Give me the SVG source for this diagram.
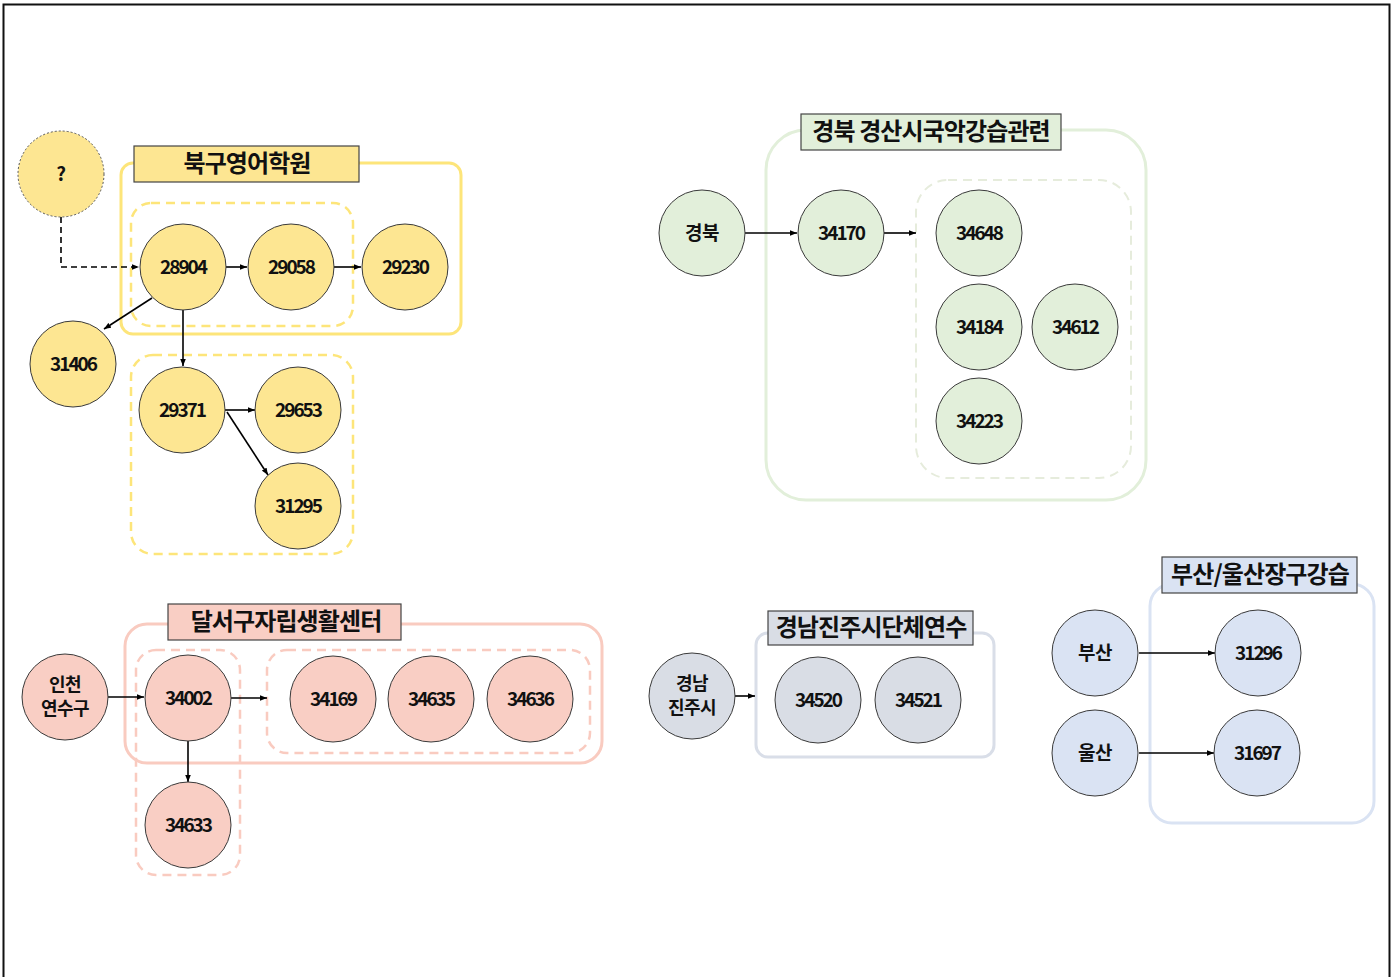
<svg xmlns="http://www.w3.org/2000/svg" width="1395" height="977" viewBox="0 0 1395 977">
<defs>
<marker id="ah" viewBox="0 0 10 10" refX="10" refY="5" markerWidth="7" markerHeight="7" markerUnits="userSpaceOnUse" orient="auto">
<path d="M0,1 L10,5 L0,9 Z" fill="#000"/>
</marker>
<style>
.c{stroke:#3a3a3a;stroke-width:1}
.y{fill:#fde692}
.g{fill:#e2efda}
.p{fill:#f9cec4}
.s{fill:#d9dde5}
.b{fill:#dae3f3}
.t{font-family:"Noto Sans CJK KR","Malgun Gothic",sans-serif;font-weight:bold;fill:#111;text-anchor:middle}
.n{font-size:19px;letter-spacing:-2px}
.k{font-size:19px;letter-spacing:-0.5px}
.k2{font-size:18px;letter-spacing:-0.5px}
.h{font-size:24px;letter-spacing:-0.9px}
.ttl{stroke:#444;stroke-width:1.2}
.e{stroke:#000;stroke-width:1.6;fill:none;marker-end:url(#ah)}
</style>
</defs>
<rect width="1395" height="977" fill="#fff"/>
<rect x="3.5" y="4.5" width="1386" height="1000" fill="none" stroke="#111" stroke-width="2"/>

<!-- Yellow group containers -->
<g id="grp-bukgu">
<rect x="121" y="163" width="340" height="171" rx="12" fill="none" stroke="#fde57a" stroke-width="3"/>
<rect x="131" y="203" width="222" height="123" rx="20" fill="none" stroke="#fde57a" stroke-width="2.5" stroke-dasharray="9,6"/>
<rect x="131" y="355" width="222" height="199" rx="22" fill="none" stroke="#fde57a" stroke-width="2.5" stroke-dasharray="9,6"/>
<rect x="134" y="146" width="225" height="36" class="y ttl"/>
<text x="247" y="172" class="t h">북구영어학원</text>
</g>

<!-- Green group containers -->
<g id="grp-gyeongsan">
<rect x="766" y="130" width="380" height="370" rx="40" fill="none" stroke="#e2efda" stroke-width="3"/>
<rect x="916" y="180" width="215" height="298" rx="32" fill="none" stroke="#e6ecdc" stroke-width="2" stroke-dasharray="9,6"/>
<rect x="801" y="114" width="260" height="36" class="g ttl"/>
<text x="931" y="140" class="t h">경북 경산시국악강습관련</text>
</g>

<!-- Pink group containers -->
<g id="grp-dalseo">
<rect x="125" y="624" width="477" height="139" rx="22" fill="none" stroke="#f9cbc0" stroke-width="3"/>
<rect x="136" y="650" width="104" height="225" rx="20" fill="none" stroke="#f9cbc0" stroke-width="2.5" stroke-dasharray="9,6"/>
<rect x="267" y="650" width="323" height="103" rx="20" fill="none" stroke="#f9cbc0" stroke-width="2.5" stroke-dasharray="9,6"/>
<rect x="168" y="604" width="233" height="36" class="p ttl"/>
<text x="286" y="630" class="t h">달서구자립생활센터</text>
</g>

<!-- Gray group -->
<g id="grp-jinju">
<rect x="756" y="633" width="238" height="124" rx="12" fill="none" stroke="#d9dee8" stroke-width="3"/>
<rect x="768" y="611" width="205" height="34" class="s ttl"/>
<text x="871" y="636" class="t h">경남진주시단체연수</text>
</g>

<!-- Blue group -->
<g id="grp-busan">
<rect x="1150" y="584" width="224" height="239" rx="22" fill="none" stroke="#dae3f3" stroke-width="3"/>
<rect x="1162" y="557" width="195" height="36" class="b ttl"/>
<text x="1260" y="583" class="t h">부산/울산장구강습</text>
</g>

<!-- Connectors -->
<g id="connectors">
<path d="M61,217 V267 H139" class="e" stroke-dasharray="6,4"/>
<path d="M226,267 H247" class="e"/>
<path d="M334,267 H361" class="e"/>
<path d="M152,298 L104,329" class="e"/>
<path d="M183,310 V366" class="e"/>
<path d="M225,410 H255" class="e"/>
<path d="M227,412 L268,475" class="e"/>
<path d="M745,233 H797" class="e"/>
<path d="M884,233 H916" class="e"/>
<path d="M108,697 H144" class="e"/>
<path d="M231,698 H267" class="e"/>
<path d="M188,741 V782" class="e"/>
<path d="M735,696 H755" class="e"/>
<path d="M1139,653 H1215" class="e"/>
<path d="M1139,753 H1214" class="e"/>
</g>

<!-- Yellow nodes -->
<g id="n-q"><circle cx="61" cy="174" r="43" class="y" stroke="#555" stroke-width="1" stroke-dasharray="2,2"/><text x="61" y="181" class="t k" font-size="17">?</text></g>
<g id="n-28904"><circle cx="183" cy="267" r="43" class="y c"/><text x="183" y="274" class="t n">28904</text></g>
<g id="n-29058"><circle cx="291" cy="267" r="43" class="y c"/><text x="291" y="274" class="t n">29058</text></g>
<g id="n-29230"><circle cx="405" cy="267" r="43" class="y c"/><text x="405" y="274" class="t n">29230</text></g>
<g id="n-31406"><circle cx="73" cy="364" r="43" class="y c"/><text x="73" y="371" class="t n">31406</text></g>
<g id="n-29371"><circle cx="182" cy="410" r="43" class="y c"/><text x="182" y="417" class="t n">29371</text></g>
<g id="n-29653"><circle cx="298" cy="410" r="43" class="y c"/><text x="298" y="417" class="t n">29653</text></g>
<g id="n-31295"><circle cx="298" cy="506" r="43" class="y c"/><text x="298" y="513" class="t n">31295</text></g>

<!-- Green nodes -->
<g id="n-gyeongbuk"><circle cx="702" cy="233" r="43" class="g c"/><text x="702" y="240" class="t k">경북</text></g>
<g id="n-34170"><circle cx="841" cy="233" r="43" class="g c"/><text x="841" y="240" class="t n">34170</text></g>
<g id="n-34648"><circle cx="979" cy="233" r="43" class="g c"/><text x="979" y="240" class="t n">34648</text></g>
<g id="n-34184"><circle cx="979" cy="327" r="43" class="g c"/><text x="979" y="334" class="t n">34184</text></g>
<g id="n-34612"><circle cx="1075" cy="327" r="43" class="g c"/><text x="1075" y="334" class="t n">34612</text></g>
<g id="n-34223"><circle cx="979" cy="421" r="43" class="g c"/><text x="979" y="428" class="t n">34223</text></g>

<!-- Pink nodes -->
<g id="n-incheon"><circle cx="65" cy="697" r="43" class="p c"/><text x="65" y="691" class="t k2">인천</text><text x="65" y="715" class="t k2">연수구</text></g>
<g id="n-34002"><circle cx="188" cy="698" r="43" class="p c"/><text x="188" y="705" class="t n">34002</text></g>
<g id="n-34633"><circle cx="188" cy="825" r="43" class="p c"/><text x="188" y="832" class="t n">34633</text></g>
<g id="n-34169"><circle cx="333" cy="699" r="43" class="p c"/><text x="333" y="706" class="t n">34169</text></g>
<g id="n-34635"><circle cx="431" cy="699" r="43" class="p c"/><text x="431" y="706" class="t n">34635</text></g>
<g id="n-34636"><circle cx="530" cy="699" r="43" class="p c"/><text x="530" y="706" class="t n">34636</text></g>

<!-- Gray nodes -->
<g id="n-jinju"><circle cx="692" cy="696" r="43" class="s c"/><text x="692" y="690" class="t k2">경남</text><text x="692" y="714" class="t k2">진주시</text></g>
<g id="n-34520"><circle cx="818" cy="700" r="43" class="s c"/><text x="818" y="707" class="t n">34520</text></g>
<g id="n-34521"><circle cx="918" cy="700" r="43" class="s c"/><text x="918" y="707" class="t n">34521</text></g>

<!-- Blue nodes -->
<g id="n-busan"><circle cx="1095" cy="653" r="43" class="b c"/><text x="1095" y="660" class="t k">부산</text></g>
<g id="n-31296"><circle cx="1258" cy="653" r="43" class="b c"/><text x="1258" y="660" class="t n">31296</text></g>
<g id="n-ulsan"><circle cx="1095" cy="753" r="43" class="b c"/><text x="1095" y="760" class="t k">울산</text></g>
<g id="n-31697"><circle cx="1257" cy="753" r="43" class="b c"/><text x="1257" y="760" class="t n">31697</text></g>
</svg>
